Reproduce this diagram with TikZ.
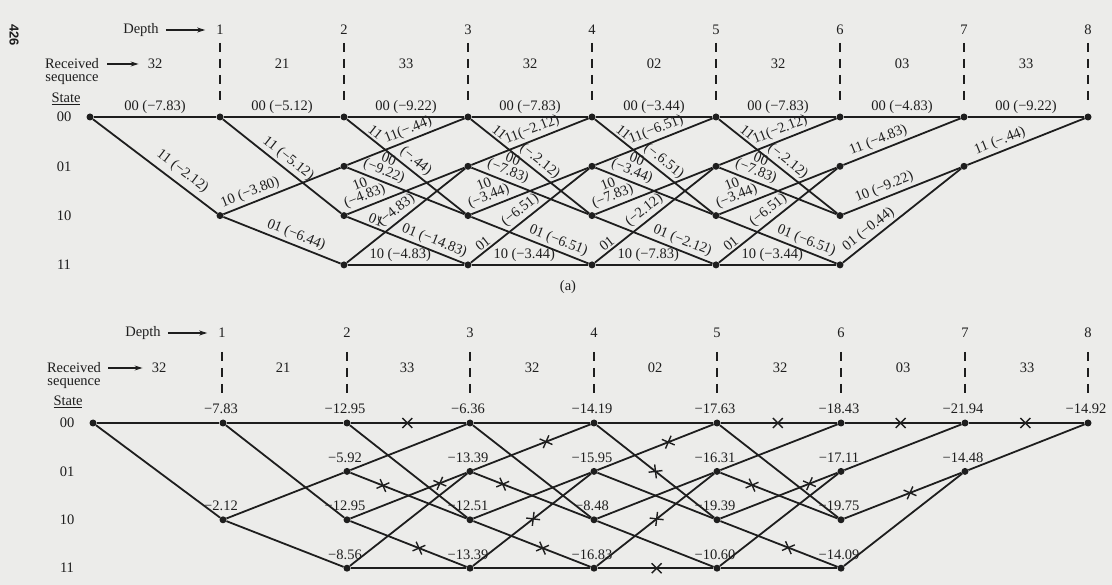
\documentclass[tikz,border=0pt]{standalone}
\usepackage{fontspec}
\setmainfont{Liberation Serif}
\setsansfont{Liberation Sans}
\usepackage{tikz}
\usetikzlibrary{arrows.meta, positioning, calc, shapes.misc}
\definecolor{ink}{RGB}{30,30,30}
\definecolor{paper}{RGB}{236,236,234}

\tikzset{
  lbl/.style={font=\fontsize{14.5}{12.5}\selectfont, inner sep=1pt},
  blbl/.style={lbl, sloped, above, inner sep=2.5pt},
  dot/.style={circle, fill=ink, inner sep=0pt, minimum size=7pt},
  branch/.style={line width=1.8pt},
  guide/.style={line width=1.3pt, dash pattern=on 9pt off 7pt},
  ptr/.style={line width=1.1pt, -{Stealth[length=8pt, width=5pt]}},
  xcut/.style={cross out, draw=ink, line width=1.4pt, minimum size=8.5pt, inner sep=0pt, sloped},
}

\begin{document}
\begin{tikzpicture}[x=1pt, y=-1pt, color=ink]
\fill[paper] (0,0) rectangle (1112,585);
\node[font=\sffamily\bfseries\fontsize{13}{13}\selectfont, rotate=-90] (pagenum) at (14,35) {426};

% ---------- (a) branch metrics ----------
\node[lbl] (adepth) at (141,30) {Depth};
\node[lbl] (arcv) at (72,64) {Received};
\node[lbl] (aseq) at (72,80) {sequence};
\node[lbl] (astate) at (66,99) {\underline{State}};
\foreach \i/\x in {1/220,2/344,3/468,4/592,5/716,6/840,7/964,8/1088} {
  \node[lbl] (ad\i) at (\x,30) {\i};
  \draw[guide] (\x,43) -- (\x,102);
}
\foreach \k/\x/\r in {1/155/32,2/282/21,3/406/33,4/530/32,5/654/02,6/778/32,7/902/03,8/1026/33}
  \node[lbl] (ar\k) at (\x,64) {\r};
\draw[ptr, shorten <=6pt, shorten >=10pt] (adepth) -- (ad1);
\draw[ptr, shorten <=7pt, shorten >=8pt] (arcv) -- (ar1);
\foreach \s/\r in {00/0,01/1,10/2,11/3}
  \node[lbl] (as\s) at (64,{117+49.3*\r}) {\s};

% states
\foreach \i/\x/\sl in {0/90/{00/0}, 1/220/{00/0,10/2}, 2/344/{00/0,01/1,10/2,11/3},
    3/468/{00/0,01/1,10/2,11/3}, 4/592/{00/0,01/1,10/2,11/3}, 5/716/{00/0,01/1,10/2,11/3},
    6/840/{00/0,01/1,10/2,11/3}, 7/964/{00/0,01/1}, 8/1088/{00/0}}
  \foreach \s/\r in \sl
    \node[dot] (a\i-\s) at (\x,{117+49.3*\r}) {};

% branches, depth 0 to 2
\draw[branch] (a0-00) -- node[blbl]{00 (−7.83)} (a1-00);
\draw[branch] (a0-00) -- node[blbl,pos=.66,inner sep=5pt]{11 (−2.12)} (a1-10);
\draw[branch] (a1-00) -- node[blbl]{00 (−5.12)} (a2-00);
\draw[branch] (a1-00) -- node[blbl,pos=.5]{11 (−5.12)} (a2-10);
\draw[branch] (a1-10) -- node[blbl,pos=.26]{10 (−3.80)} (a2-01);
\draw[branch] (a1-10) -- node[blbl,pos=.59]{01 (−6.44)} (a2-11);
% branches, depth 2 to 6
\foreach \i/\j/\va/\vb/\vh/\vc/\vd/\ve/\vf/\vg in {
    2/3/−9.22/−.44/−.44/−9.22/−4.83/−4.83/−14.83/−4.83,
    3/4/−7.83/−2.12/−.2.12/−7.83/−3.44/−6.51/−6.51/−3.44,
    4/5/−3.44/−6.51/−.6.51/−3.44/−7.83/−2.12/−2.12/−7.83,
    5/6/−7.83/−2.12/−.2.12/−7.83/−3.44/−6.51/−6.51/−3.44} {
  \draw[branch] (a\i-00) -- node[blbl]{00 (\va)} (a\j-00);
  \draw[branch] (a\i-00) -- node[blbl,pos=.2]{11} node[blbl,pos=.53]{(\vh)} (a\j-10);
  \draw[branch] (a\i-01) -- node[blbl,pos=.55]{11(\vb)} (a\j-00);
  \draw[branch] (a\i-01) -- node[blbl,pos=.28,align=center]{00\\(\vc)} (a\j-10);
  \draw[branch] (a\i-10) -- node[blbl,pos=.18,align=center]{10\\(\vd)} (a\j-01);
  \draw[branch] (a\i-11) -- node[blbl,pos=.47]{(\ve)} (a\j-01);
  \draw[branch] (a\i-10) -- node[blbl,pos=.71]{01 (\vf)} (a\j-11);
  \draw[branch] (a\i-11) -- node[blbl,pos=.45]{10 (\vg)} (a\j-11);
}
\path (a2-10) -- node[blbl,pos=.22]{01} (a3-11);
\foreach \i/\j in {3/4,4/5,5/6}
  \path (a\i-11) -- node[blbl,pos=.14]{01} (a\j-01);
% branches, depth 6 to 8
\draw[branch] (a6-00) -- node[blbl]{00 (−4.83)} (a7-00);
\draw[branch] (a6-01) -- node[blbl,pos=.33]{11 (−4.83)} (a7-00);
\draw[branch] (a6-10) -- node[blbl,pos=.38]{10 (−9.22)} (a7-01);
\draw[branch] (a6-11) -- node[blbl,pos=.27]{01 (−0.44)} (a7-01);
\draw[branch] (a7-00) -- node[blbl]{00 (−9.22)} (a8-00);
\draw[branch] (a7-01) -- node[blbl,pos=.31]{11 (−.44)} (a8-00);
\node[lbl] (capa) at (568,287) {(a)};

% ---------- (b) path metrics ----------
\node[lbl] (bdepth) at (143,333) {Depth};
\node[lbl] (brcv) at (74,368) {Received};
\node[lbl] (bseq) at (74,384) {sequence};
\node[lbl] (bstate) at (68,402) {\underline{State}};
\foreach \i/\x in {1/222,2/347,3/470,4/594,5/717,6/841,7/965,8/1088} {
  \node[lbl] (bd\i) at (\x,333) {\i};
  \draw[guide] (\x,352) -- (\x,393);
}
\foreach \k/\x/\r in {1/159/32,2/283/21,3/407/33,4/532/32,5/655/02,6/780/32,7/903/03,8/1027/33}
  \node[lbl] (br\k) at (\x,368) {\r};
\draw[ptr, shorten <=6pt, shorten >=10pt] (bdepth) -- (bd1);
\draw[ptr, shorten <=6pt, shorten >=8pt] (brcv) -- (br1);
\foreach \s/\r in {00/0,01/1,10/2,11/3}
  \node[lbl] (bs\s) at (67,{423+48.4*\r}) {\s};

% states
\foreach \i/\x/\sl in {0/93/{00/0}, 1/223/{00/0,10/2}, 2/347/{00/0,01/1,10/2,11/3},
    3/470/{00/0,01/1,10/2,11/3}, 4/594/{00/0,01/1,10/2,11/3}, 5/717/{00/0,01/1,10/2,11/3},
    6/841/{00/0,01/1,10/2,11/3}, 7/965/{00/0,01/1}, 8/1088/{00/0}}
  \foreach \s/\r in \sl
    \node[dot] (b\i-\s) at (\x,{423+48.4*\r}) {};

% branches
\draw[branch] (b0-00) -- (b1-00);
\draw[branch] (b0-00) -- (b1-10);
\foreach \s/\t in {00/00,00/10,10/01,10/11}
  \draw[branch] (b1-\s) -- (b2-\t);
\foreach \i/\j in {2/3,3/4,4/5,5/6}
  \foreach \s/\t in {00/00,00/10,01/00,01/10,10/01,10/11,11/01,11/11}
    \draw[branch] (b\i-\s) -- (b\j-\t);
\foreach \s/\t in {00/00,01/00,10/01,11/01}
  \draw[branch] (b6-\s) -- (b7-\t);
\draw[branch] (b7-00) -- (b8-00);
\draw[branch] (b7-01) -- (b8-00);

% discarded branches
\foreach \i/\j/\s/\t/\p in {2/3/00/00/.49, 2/3/01/10/.28, 2/3/10/01/.77, 2/3/10/11/.59,
    3/4/01/00/.62, 3/4/01/10/.25, 3/4/11/01/.51, 3/4/10/11/.59,
    4/5/01/00/.61, 4/5/00/10/.5, 4/5/11/01/.51, 4/5/11/11/.51,
    5/6/00/00/.49, 5/6/01/10/.27, 5/6/10/01/.76, 5/6/10/11/.58,
    6/7/00/00/.48, 6/7/10/01/.56, 7/8/00/00/.49}
  \path (b\i-\s) -- node[xcut,pos=\p]{} (b\j-\t);

% survivor metrics
\foreach \n/\m in {1-00/−7.83, 1-10/−2.12,
    2-00/−12.95, 2-01/−5.92, 2-10/−12.95, 2-11/−8.56,
    3-00/−6.36, 3-01/−13.39, 3-10/−12.51, 3-11/−13.39,
    4-00/−14.19, 4-01/−15.95, 4-10/−8.48, 4-11/−16.83,
    5-00/−17.63, 5-01/−16.31, 5-10/−19.39, 5-11/−10.60,
    6-00/−18.43, 6-01/−17.11, 6-10/−19.75, 6-11/−14.09,
    7-00/−21.94, 7-01/−14.48, 8-00/−14.92}
  \node[lbl, above=4pt of b\n, xshift=-2pt] (m\n) {\m};
\end{tikzpicture}
\end{document}
